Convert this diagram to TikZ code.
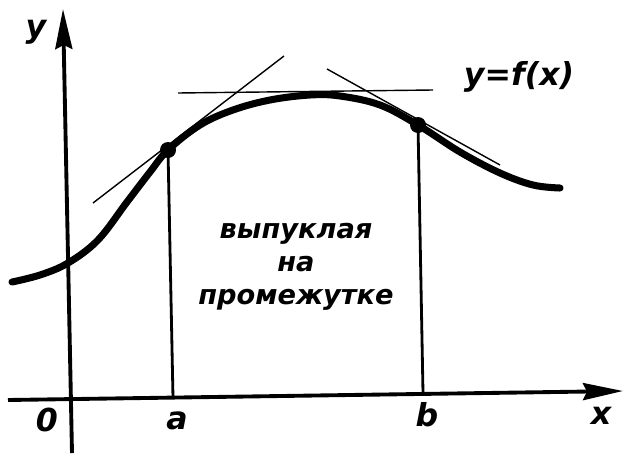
\documentclass[tikz,border=0pt]{standalone}
\usepackage{fontspec}
\setmainfont{DejaVu Sans}
\usetikzlibrary{arrows.meta}

\begin{document}
\begin{tikzpicture}[x=0.02cm, y=-0.02cm,
    lbl/.style={font=\fontsize{18}{20}\selectfont\bfseries\itshape},
    axis/.style={line width=2.2pt, -{Stealth[length=0.8cm, width=0.34cm, inset=0.08cm]}},
    tang/.style={line width=0.8pt},
    drop/.style={line width=1.6pt}]
    \useasboundingbox (0,0) rectangle (624,453);

    \coordinate (xs) at (8,400);
    \coordinate (xe) at (623,391);
    \coordinate (ys) at (72,453);
    \coordinate (ye) at (63,9);
    \coordinate (a) at (168,150);
    \coordinate (b) at (418,125);
    \coordinate (af) at (173,398);
    \coordinate (bf) at (423,393);

    \draw[axis] (xs) -- (xe);
    \draw[axis] (ys) -- (ye);

    \draw[tang] (93,203) -- (284,56);
    \draw[tang] (327,69) -- (500,165);
    \draw[tang] (178,93) -- (433,90);

    \draw[drop] (a) -- (af);
    \draw[drop] (b) -- (bf);

    \draw[line width=4pt, line cap=round] plot[smooth, tension=0.6] coordinates {
        (12,282) (40,275) (68,263) (98,240) (127,202) (150,172) (168,150)
        (200,125) (233,110) (270,100) (310,95) (340,96) (380,105) (418,125)
        (460,152) (500,173) (533,185) (560,188)};

    \fill (a) circle (8);
    \fill (b) circle (8);

    \node (ylab) at (36,32) [lbl] {y};
    \node (flab) at (519,77) [lbl] {y=f(x)};
    \node (olab) at (47,420) [lbl] {0};
    \node (alab) at (177,421) [lbl] {a};
    \node (blab) at (427,415) [lbl] {b};
    \node (xlab) at (601,416) [lbl] {x};
    \node (txt) at (296,267) [lbl, font=\fontsize{15.5}{18.7}\selectfont\bfseries\itshape, align=center] {выпуклая\\на\\промежутке};
\end{tikzpicture}
\end{document}
